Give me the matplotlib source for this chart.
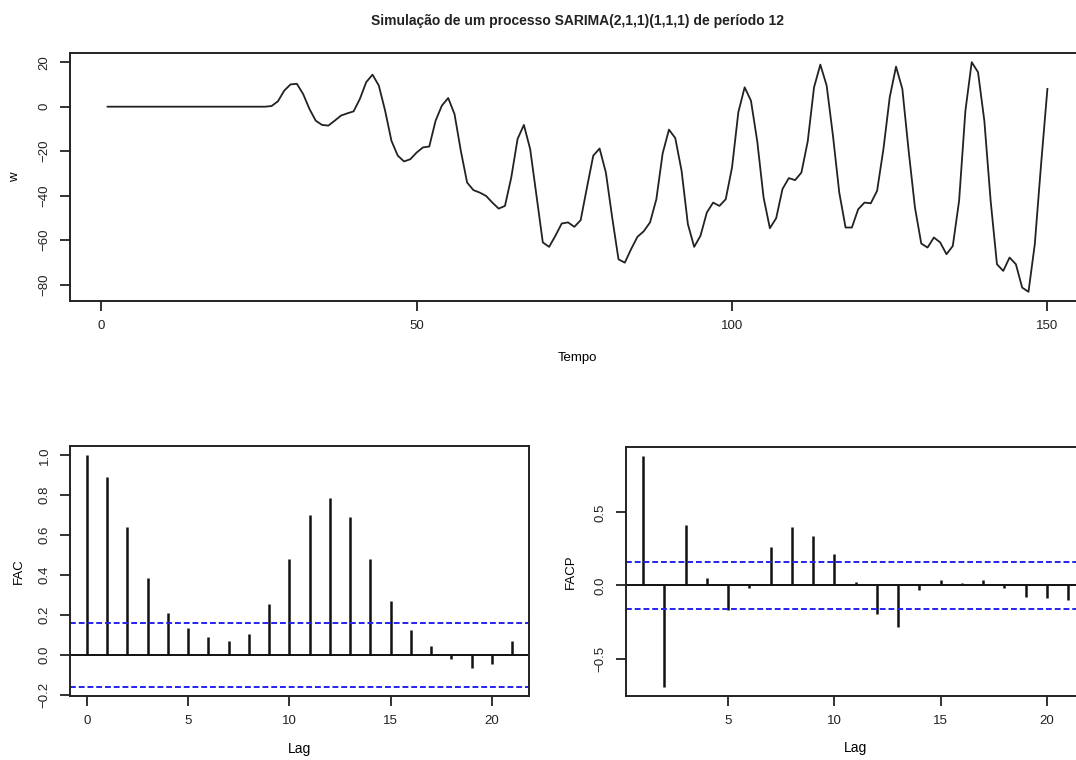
import matplotlib
matplotlib.use("Agg")
import matplotlib.pyplot as plt
import numpy as np

plt.rcParams['font.family'] = ['Liberation Sans', 'DejaVu Sans']

# serie simulada
tempo = list(range(1, 151))
w = [0.0] * 26 + [
    0.3, 2.4, 7.2, 10.0, 10.3, 5.7, -1.0, -6.3, -8.2, -8.5,
    -6.3, -4.0, -3.0, -2.1, 3.5, 11.0, 14.4, 9.5, -1.8, -15.3,
    -22.0, -24.6, -23.6, -20.6, -18.3, -17.9, -6.3, 0.5, 3.9, -3.3,
    -19.8, -34.1, -37.5, -38.6, -40.1, -43.1, -45.8, -44.6, -31.8, -14.5,
    -8.2, -19.1, -40.1, -61.0, -63.0, -58.0, -52.5, -52.0, -54.0, -51.0,
    -36.3, -22.0, -18.8, -29.6, -49.8, -68.6, -70.1, -64.0, -58.5, -56.0,
    -52.0, -41.6, -21.0, -10.3, -14.1, -28.8, -52.8, -63.0, -58.0, -47.6,
    -43.1, -44.6, -41.6, -27.3, -2.5, 8.7, 2.7, -15.6, -40.8, -54.6,
    -50.1, -37.0, -32.1, -33.0, -29.6, -15.6, 8.7, 18.9, 9.5, -13.0,
    -38.6, -54.3, -54.3, -46.1, -43.1, -43.4, -37.8, -19.1, 4.2, 18.0,
    8.0, -19.8, -45.3, -61.5, -63.3, -58.8, -61.0, -66.3, -62.6, -42.3,
    -1.8, 20.0, 15.5, -6.3, -42.3, -70.8, -73.8, -67.8, -70.8, -81.3,
    -83.2, -61.8, -25.8, 8.0]

# FAC
lags_fac = list(range(0, 22))
fac = [1.0, 0.89, 0.64, 0.385, 0.21, 0.135, 0.09, 0.07, 0.105, 0.255, 0.48,
       0.70, 0.785, 0.69, 0.48, 0.27, 0.125, 0.045, -0.02, -0.065, -0.045, 0.07]

# FACP
lags_facp = list(range(1, 22))
facp = [0.884, -0.693, 0.411, 0.05, -0.17, -0.014, 0.26, 0.40, 0.34, 0.214,
        0.027, -0.193, -0.286, -0.03, 0.039, 0.016, 0.039, -0.018, -0.077, -0.089, -0.10]

n = len(w)
clim = 1.96 / np.sqrt(n)

W, H = 1076, 760
fig = plt.figure(figsize=(W / 100, H / 100), dpi=100)


def box(l, t, r, b):
    return [l / W, 1 - b / H, (r - l) / W, (b - t) / H]


def r_style(ax):
    for s in ax.spines.values():
        s.set_linewidth(1.4)
        s.set_color('#222222')
    ax.tick_params(direction='out', length=7, width=1.3, color='#222222',
                   labelsize=9.5, pad=7, labelcolor='#222222')
    ax.tick_params(axis='y', labelrotation=90)
    for lab in ax.get_yticklabels():
        lab.set_va('center')


# serie
ax1 = fig.add_axes(box(70, 53, 1085, 301))
ax1.plot(tempo, w, color='#222222', lw=1.3)
ax1.set_xlim(1 - 0.04 * 149, 150 + 0.04 * 149)
rng = max(w) - min(w)
ax1.set_ylim(min(w) - 0.04 * rng, max(w) + 0.04 * rng)
ax1.set_xticks([0, 50, 100, 150])
ax1.set_yticks([20, 0, -20, -40, -60, -80])
r_style(ax1)
ax1.set_xlabel('Tempo', fontsize=9.5)
ax1.set_ylabel('w', fontsize=9.5)
ax1.xaxis.set_label_coords(0.5, -0.23)
ax1.xaxis.label.set_va('center')
ax1.yaxis.set_label_coords(-0.054, 0.5)
ax1.yaxis.label.set_va('center')

fig.text(577 / W, 1 - 21 / H, 'Simulação de um processo SARIMA(2,1,1)(1,1,1) de período 12',
         ha='center', va='center', fontsize=10, fontweight='bold', color='#222222')

# FAC
ax2 = fig.add_axes(box(70, 446, 529, 696))
ax2.vlines(lags_fac, 0, fac, color='#111111', lw=1.8)
ax2.axhline(0, color='#111111', lw=1.4)
for c in (clim, -clim):
    ax2.axhline(c, color='#2222ee', lw=1.4, ls=(0, (3, 1.5)))
ax2.set_xlim(-0.84, 21.84)
lo = min(min(fac), -clim)
ax2.set_ylim(lo - 0.04 * (1 - lo), 1 + 0.04 * (1 - lo))
ax2.set_xticks([0, 5, 10, 15, 20])
ax2.set_yticks([-0.2, 0.0, 0.2, 0.4, 0.6, 0.8, 1.0])
ax2.set_yticklabels(['−0.2', '0.0', '0.2', '0.4', '0.6', '0.8', '1.0'])
r_style(ax2)
ax2.set_xlabel('Lag', fontsize=10)
ax2.set_ylabel('FAC', fontsize=9.5)
ax2.xaxis.set_label_coords(0.5, -0.21)
ax2.xaxis.label.set_va('center')
ax2.yaxis.set_label_coords(-0.112, 0.5)
ax2.yaxis.label.set_va('center')

# FACP
ax3 = fig.add_axes(box(626, 447, 1085, 696))
ax3.vlines(lags_facp, 0, facp, color='#111111', lw=1.8)
ax3.axhline(0, color='#111111', lw=1.4)
for c in (clim, -clim):
    ax3.axhline(c, color='#2222ee', lw=1.4, ls=(0, (3, 1.5)))
ax3.set_xlim(1 - 0.04 * 20, 21 + 0.04 * 20)
lo = min(min(facp), -clim)
hi = max(max(facp), clim)
ax3.set_ylim(lo - 0.04 * (hi - lo), hi + 0.04 * (hi - lo))
ax3.set_xticks([5, 10, 15, 20])
ax3.set_yticks([-0.5, 0.0, 0.5])
ax3.set_yticklabels(['−0.5', '0.0', '0.5'])
r_style(ax3)
ax3.set_xlabel('Lag', fontsize=10)
ax3.set_ylabel('FACP', fontsize=9.5)
ax3.xaxis.set_label_coords(0.5, -0.21)
ax3.xaxis.label.set_va('center')
ax3.yaxis.set_label_coords(-0.12, 0.5)
ax3.yaxis.label.set_va('center')

fig.savefig('out.png', dpi=100)
